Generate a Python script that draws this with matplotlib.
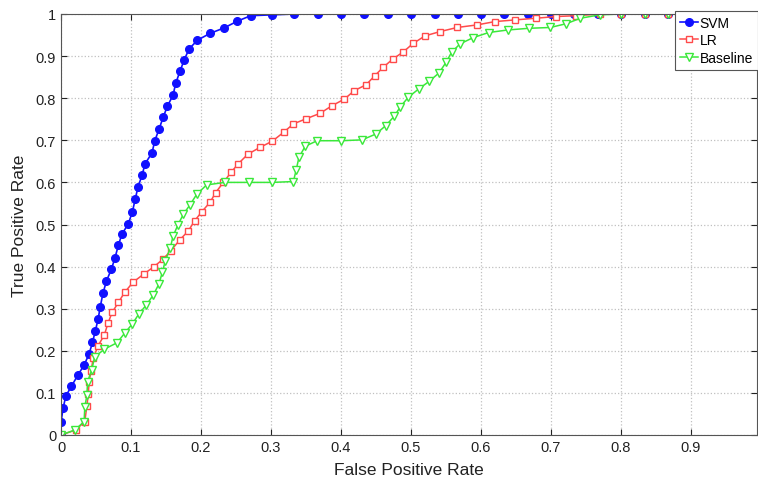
"""ROC curves: SVM vs LR vs Baseline (MATLAB-style figure)."""

import matplotlib
matplotlib.use("Agg")
import matplotlib.pyplot as plt

plt.rcParams["font.family"] = ["Liberation Sans", "DejaVu Sans"]

# ---------------------------------------------------------------------------
# Data
# ---------------------------------------------------------------------------

svm_fpr = [0, 0, 0.003, 0.007, 0.015, 0.024, 0.033, 0.040, 0.045, 0.049,
           0.053, 0.056, 0.060, 0.065, 0.072, 0.077, 0.082, 0.087, 0.096, 0.102,
           0.106, 0.110, 0.116, 0.120, 0.130, 0.134, 0.140, 0.146, 0.152, 0.160,
           0.164, 0.170, 0.176, 0.183, 0.195, 0.213, 0.233, 0.252, 0.271, 0.302,
           0.333, 0.367, 0.400, 0.433, 0.467, 0.500, 0.534, 0.567, 0.600, 0.633,
           0.667, 0.700, 0.733, 0.767, 0.800, 0.834, 0.867, 0.900, 0.934, 0.967]
svm_tpr = [0, 0.03, 0.064, 0.093, 0.116, 0.142, 0.166, 0.192, 0.22, 0.247,
           0.275, 0.304, 0.337, 0.366, 0.394, 0.42, 0.451, 0.477, 0.501, 0.53,
           0.56, 0.589, 0.618, 0.644, 0.67, 0.699, 0.726, 0.755, 0.781, 0.807,
           0.836, 0.864, 0.891, 0.917, 0.938, 0.954, 0.967, 0.983, 0.996, 0.998,
           1, 1, 1, 1, 1, 1, 1, 1, 1, 1,
           1, 1, 1, 1, 1, 1, 1, 1, 1, 1]

lr_fpr = [0, 0.021, 0.034, 0.037, 0.039, 0.040, 0.043, 0.046, 0.053, 0.062,
          0.067, 0.073, 0.082, 0.091, 0.103, 0.118, 0.133, 0.146, 0.157, 0.170,
          0.182, 0.191, 0.201, 0.213, 0.221, 0.232, 0.243, 0.253, 0.267, 0.284,
          0.302, 0.318, 0.332, 0.350, 0.370, 0.387, 0.405, 0.419, 0.436, 0.448,
          0.460, 0.474, 0.489, 0.503, 0.520, 0.541, 0.566, 0.594, 0.620, 0.649,
          0.679, 0.707, 0.736, 0.770, 0.800, 0.834, 0.867, 0.900, 0.934, 0.967]
lr_tpr = [0, 0.012, 0.032, 0.07, 0.097, 0.125, 0.153, 0.182, 0.212, 0.238,
          0.265, 0.291, 0.315, 0.339, 0.363, 0.382, 0.40, 0.418, 0.438, 0.464,
          0.485, 0.509, 0.53, 0.553, 0.576, 0.60, 0.624, 0.644, 0.667, 0.683,
          0.698, 0.719, 0.739, 0.751, 0.764, 0.782, 0.798, 0.818, 0.832, 0.853,
          0.873, 0.893, 0.91, 0.93, 0.948, 0.958, 0.968, 0.974, 0.982, 0.986,
          0.99, 0.994, 0.996, 1, 1, 1, 1, 1, 1, 1]

base_fpr = [0, 0.02, 0.033, 0.034, 0.037, 0.038, 0.044, 0.048, 0.062, 0.080,
            0.091, 0.102, 0.111, 0.122, 0.132, 0.140, 0.145, 0.149, 0.156, 0.160,
            0.167, 0.175, 0.184, 0.194, 0.208, 0.234, 0.268, 0.301, 0.332, 0.336,
            0.340, 0.349, 0.366, 0.400, 0.430, 0.450, 0.464, 0.476, 0.485, 0.496,
            0.511, 0.526, 0.540, 0.550, 0.558, 0.570, 0.589, 0.611, 0.638, 0.668,
            0.699, 0.722, 0.742, 0.770, 0.800, 0.834, 0.867, 0.900, 0.934, 0.967]
base_tpr = [0, 0.012, 0.032, 0.066, 0.095, 0.127, 0.155, 0.185, 0.204, 0.219,
            0.242, 0.264, 0.287, 0.309, 0.333, 0.359, 0.388, 0.414, 0.443, 0.472,
            0.499, 0.525, 0.546, 0.572, 0.594, 0.60, 0.60, 0.60, 0.602, 0.63,
            0.66, 0.686, 0.699, 0.699, 0.701, 0.715, 0.735, 0.757, 0.78, 0.802,
            0.822, 0.84, 0.86, 0.885, 0.909, 0.929, 0.944, 0.956, 0.962, 0.966,
            0.968, 0.977, 0.99, 0.998, 1, 1, 1, 1, 1, 1]

x_ticks = [0, 0.1, 0.2, 0.3, 0.4, 0.5, 0.6, 0.7, 0.8, 0.9]
x_tick_labels = ["0", "0.1", "0.2", "0.3", "0.4", "0.5", "0.6", "0.7", "0.8", "0.9"]
y_ticks = [0, 0.1, 0.2, 0.3, 0.4, 0.5, 0.6, 0.7, 0.8, 0.9, 1]
y_tick_labels = ["0", "0.1", "0.2", "0.3", "0.4", "0.5", "0.6", "0.7", "0.8", "0.9", "1"]

# ---------------------------------------------------------------------------
# Plot
# ---------------------------------------------------------------------------

fig = plt.figure(figsize=(7.58, 4.81), dpi=100)
ax = fig.add_axes([61 / 758, 45 / 481, 696 / 758, 421 / 481])

ax.plot(svm_fpr, svm_tpr, color="#1010ff", linewidth=1.2, marker="o",
        markersize=5.5, markerfacecolor="#1010ff", markeredgecolor="#1010ff",
        label="SVM")
ax.plot(lr_fpr, lr_tpr, color="#ff4a4a", linewidth=1.1, marker="s",
        markersize=5, markerfacecolor="white", markeredgecolor="#ff4a4a",
        markeredgewidth=1.0, label="LR")
ax.plot(base_fpr, base_tpr, color="#3ae83a", linewidth=1.1, marker="v",
        markersize=6, markerfacecolor="white", markeredgecolor="#3ae83a",
        markeredgewidth=1.0, label="Baseline")

ax.set_xlim(0, 0.9943)
ax.set_ylim(0, 1)
ax.set_xticks(x_ticks)
ax.set_xticklabels(x_tick_labels)
ax.set_yticks(y_ticks)
ax.set_yticklabels(y_tick_labels)
ax.tick_params(direction="in", top=True, right=True, length=4,
               labelsize=10.5, colors="#222222")
ax.grid(True, linestyle=":", color="#c0c0c0", linewidth=0.9)
for s in ax.spines.values():
    s.set_color("#555555")
    s.set_linewidth(0.8)

ax.set_xlabel("False Positive Rate", fontsize=12.5, color="#222222", labelpad=6)
ax.set_ylabel("True Positive Rate", fontsize=12.5, color="#222222", labelpad=6)

# legend runs up to the right edge, as in the cropped original
leg = ax.legend(loc="upper right", fontsize=10, handlelength=1.35,
                handletextpad=0.1, borderpad=0.35, labelspacing=0.25,
                borderaxespad=0.0, fancybox=False, framealpha=1,
                bbox_to_anchor=(1.0, 1 - 12 / 481),
                bbox_transform=fig.transFigure)
leg.get_frame().set_edgecolor("#555555")
leg.get_frame().set_linewidth(0.8)

fig.savefig("out.png", dpi=100)
